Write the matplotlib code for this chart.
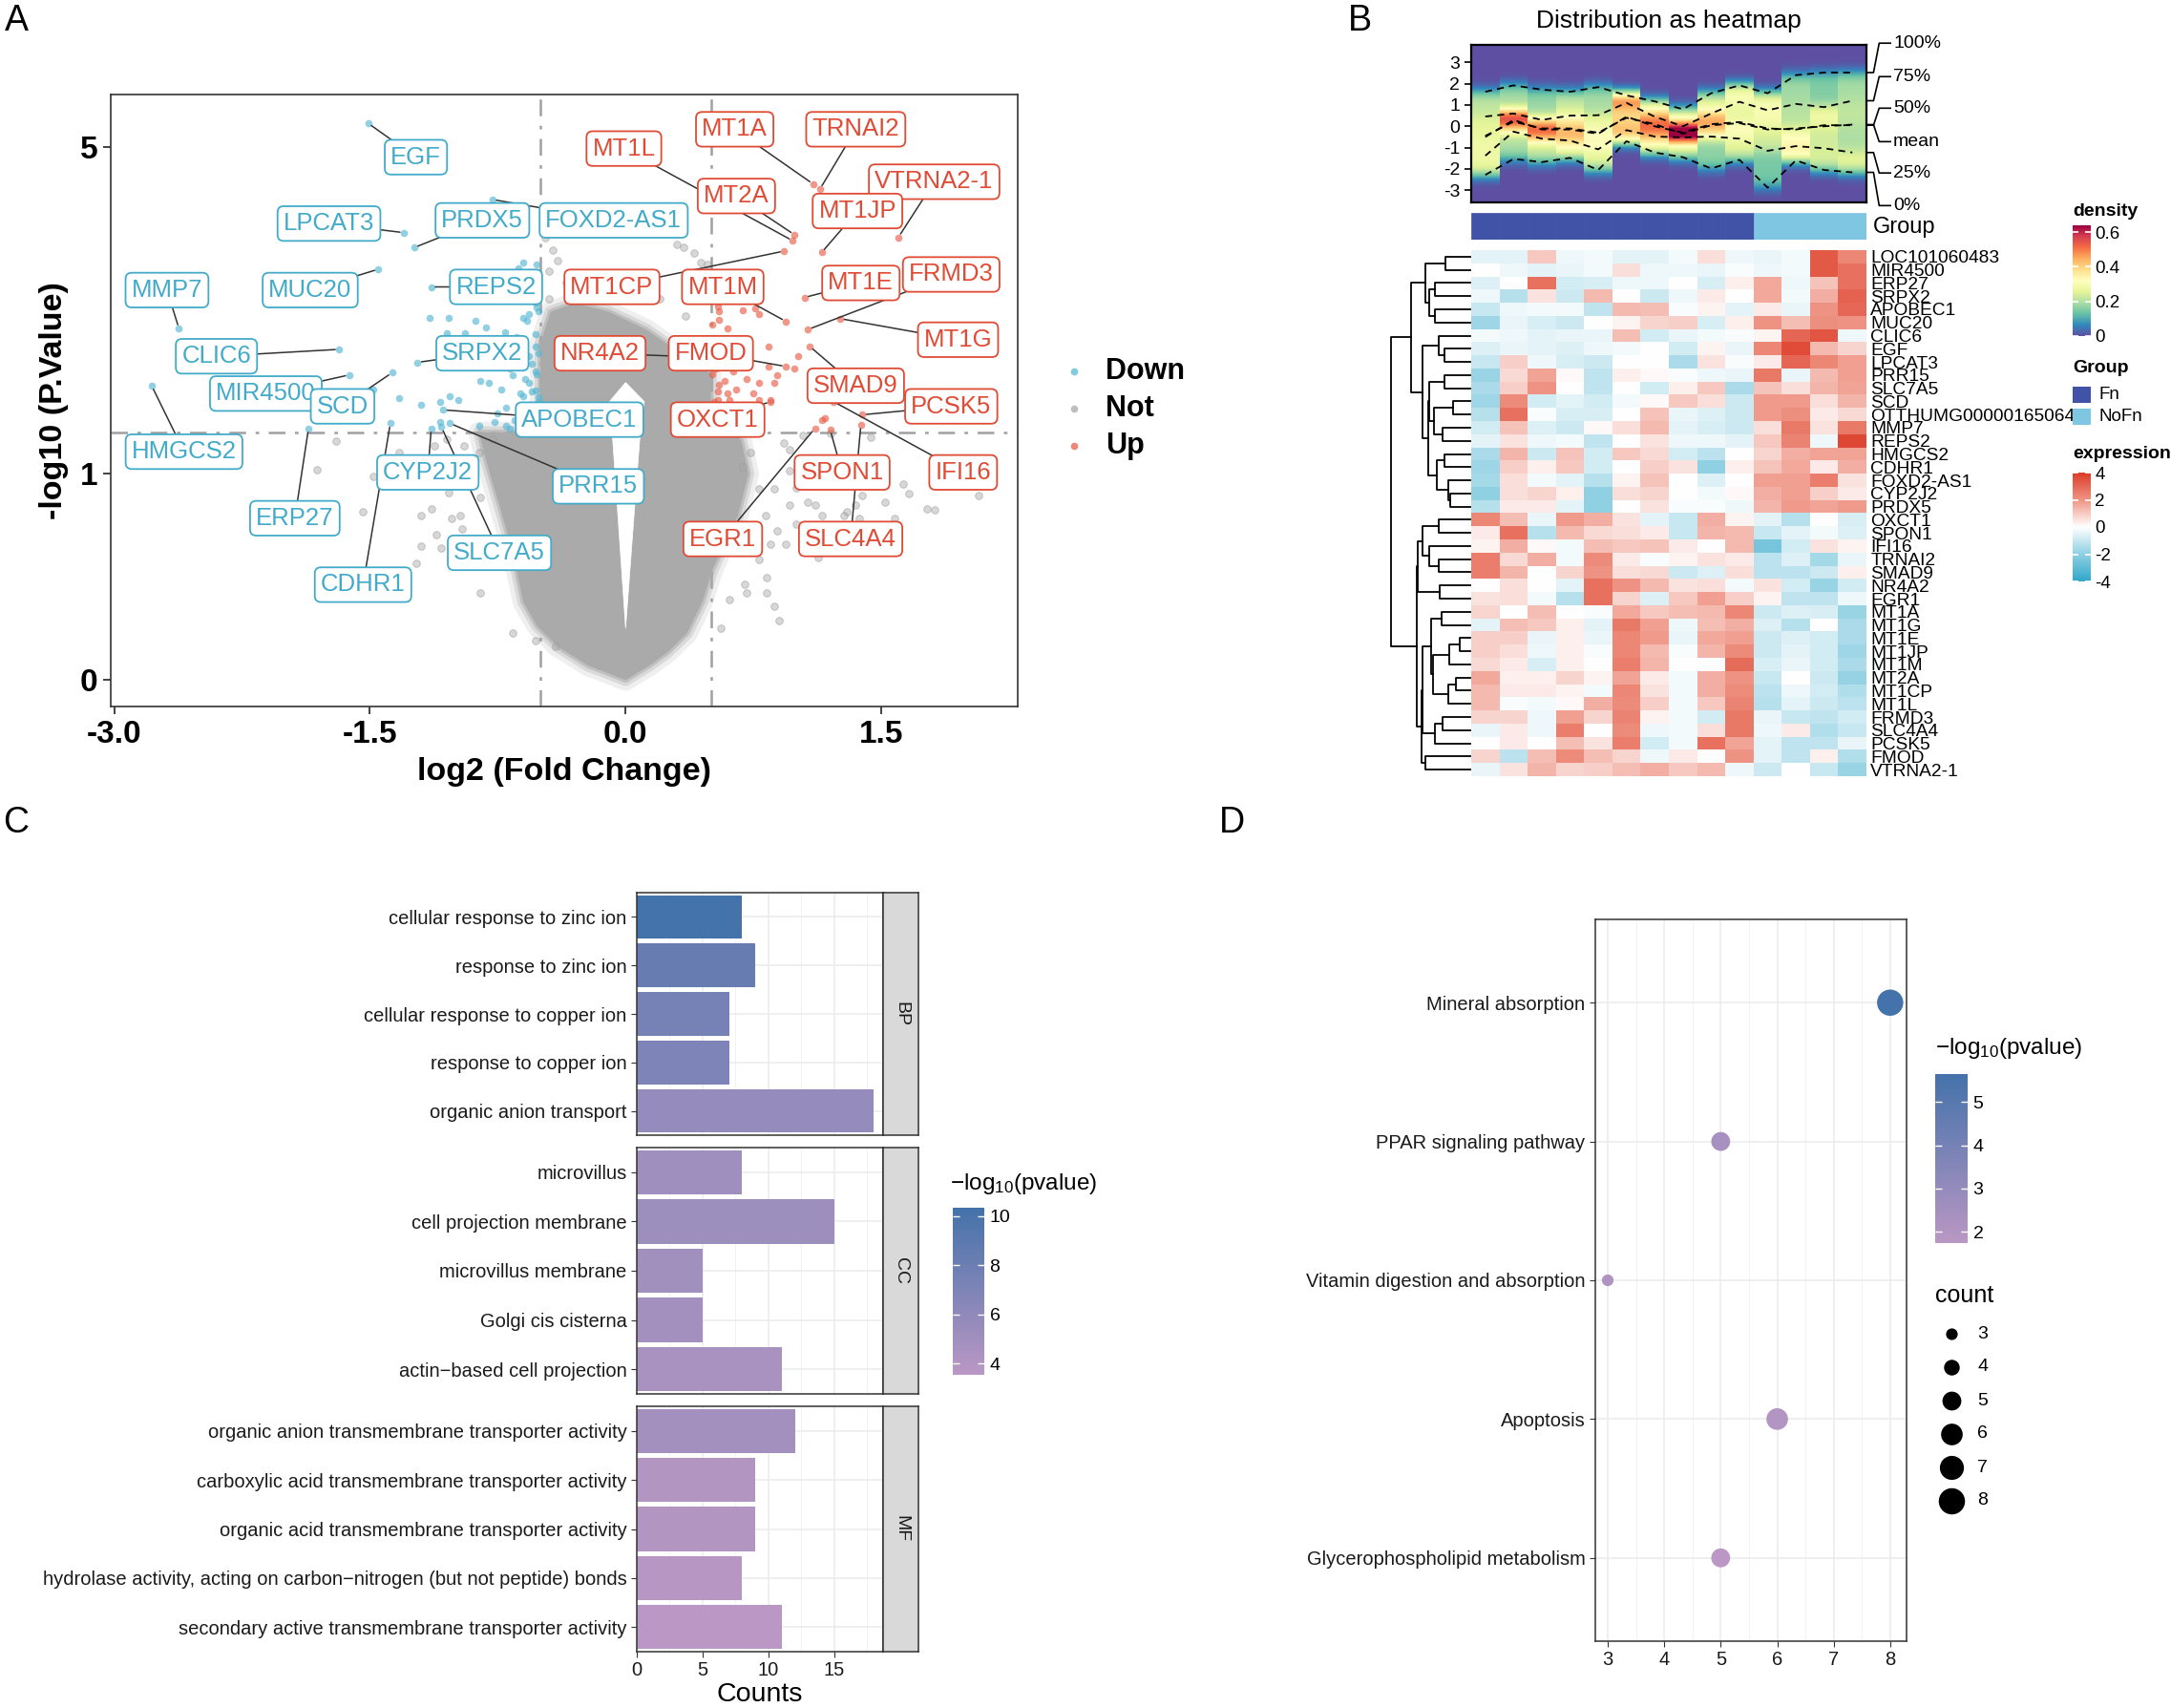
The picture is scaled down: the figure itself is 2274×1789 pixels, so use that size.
import numpy as np
import matplotlib.pyplot as plt
import matplotlib.colors as mcolors
from matplotlib.patches import Rectangle
from matplotlib.cm import ScalarMappable

plt.rcParams['font.family'] = ['Liberation Sans', 'DejaVu Sans']
plt.rcParams['mathtext.fontset'] = 'custom'
plt.rcParams['mathtext.rm'] = 'Liberation Sans'
plt.rcParams['mathtext.it'] = 'Liberation Sans:italic'
plt.rcParams['axes.unicode_minus'] = False
NARROW = ['Liberation Sans Narrow', 'Liberation Sans', 'DejaVu Sans']

# ---------------- A: volcano ----------------
down_genes = ['EGF', 'LPCAT3', 'PRDX5', 'FOXD2-AS1', 'MMP7', 'MUC20', 'REPS2', 'CLIC6', 'SRPX2',
              'MIR4500', 'SCD', 'APOBEC1', 'HMGCS2', 'CYP2J2', 'PRR15', 'ERP27', 'SLC7A5', 'CDHR1']
down_fc = [-1.51, -1.30, -1.24, -0.78, -2.62, -1.45, -1.14, -1.68, -1.22,
           -1.62, -1.37, -1.07, -2.78, -1.14, -1.03, -1.86, -1.08, -1.38]
down_lp = [5.50, 3.50, 3.28, 4.03, 2.26, 2.98, 2.75, 2.04, 1.91,
           1.79, 1.81, 1.48, 1.69, 1.33, 1.37, 1.33, 1.34, 1.37]

up_genes = ['MT1L', 'MT1A', 'TRNAI2', 'VTRNA2-1', 'MT2A', 'MT1JP', 'MT1CP', 'MT1M', 'FRMD3', 'MT1E',
            'MT1G', 'NR4A2', 'FMOD', 'PCSK5', 'SMAD9', 'OXCT1', 'SPON1', 'IFI16', 'EGR1', 'SLC4A4']
up_fc = [0.98, 1.10, 1.14, 1.60, 0.99, 1.15, 0.93, 0.94, 1.07, 1.05,
         1.26, 0.62, 0.94, 1.39, 1.08, 0.85, 1.20, 1.22, 1.11, 1.38]
up_lp = [3.38, 4.30, 4.21, 3.43, 3.47, 3.21, 3.23, 2.34, 2.25, 2.62,
         2.37, 1.95, 1.87, 1.44, 2.07, 1.55, 1.32, 1.55, 1.33, 1.36]

# other significant genes (unlabelled)
down_fc_x = [-1.15, -1.04, -0.88, -0.82, -0.60, -0.63, -0.71, -0.60, -0.57, -0.53, -0.51, -0.85, -0.80,
             -0.73, -0.66, -0.59, -0.55, -1.03, -0.98, -1.09, -1.20, -0.53, -0.57, -0.53, -0.51, -0.64,
             -0.60, -0.70, -0.68, -0.62, -1.05, -0.94, -0.86, -0.77, -0.70, -1.09, -1.33, -1.48,
             -0.52, -0.55, -0.51, -0.56, -0.52, -0.58, -0.53, -0.60, -0.51, -0.55, -0.52, -0.57,
             -0.53, -0.60, -0.51, -0.55, -0.62, -0.52, -0.58, -0.54, -0.65, -0.70, -0.75, -0.68]
down_lp_x = [2.38, 2.38, 2.35, 2.27, 3.07, 2.99, 2.22, 2.38, 2.42, 2.56, 2.45, 1.73, 1.72,
             1.66, 1.79, 1.75, 1.64, 1.60, 1.56, 1.55, 1.52, 2.07, 1.97, 1.82, 1.59, 2.17,
             2.14, 2.04, 1.85, 1.62, 2.21, 2.21, 1.35, 1.38, 1.35, 1.38, 1.58, 1.66,
             3.05, 2.90, 2.75, 2.60, 2.50, 2.35, 2.20, 2.10, 2.00, 1.90, 1.80, 1.72,
             1.65, 1.60, 1.55, 1.50, 1.45, 1.42, 1.38, 1.34, 1.40, 1.50, 1.45, 1.33]
up_fc_x = [0.54, 0.55, 0.60, 0.69, 0.76, 0.78, 0.84, 0.84, 0.89, 0.99, 1.01, 0.87, 0.78, 0.71,
           0.65, 0.58, 0.54, 0.75, 0.53, 0.54, 0.61, 0.78, 0.85, 0.63, 1.15, 1.17,
           0.52, 0.55, 0.51, 0.56, 0.52, 0.58, 0.51, 0.55, 0.60, 0.52, 0.57, 0.53, 0.60, 0.66,
           0.72, 0.52]
up_lp_x = [2.51, 2.36, 2.26, 2.47, 2.49, 2.42, 2.07, 1.87, 1.79, 1.85, 1.97, 1.72, 1.72, 1.75,
           1.66, 1.73, 1.64, 1.62, 1.85, 1.56, 1.56, 1.56, 1.56, 1.82, 1.40, 1.41,
           2.60, 2.45, 2.30, 2.15, 2.00, 1.90, 1.80, 1.70, 1.62, 1.55, 1.48, 1.42, 1.36, 1.45,
           1.40, 1.33]

# non-significant genes outside the dense core
not_fc = [-1.70, -1.81, -1.54, -1.48, -1.20, -1.11, -1.14, -1.20, -1.08, -0.85, -0.66, -0.53, -0.41,
          -1.23, -1.33, -1.04, -0.97, -0.95, -0.90, -0.92, -0.85, -0.96, -0.88, -1.05, -1.00, -1.02,
          -0.86, -0.78, -1.12, -1.18, -0.47, -0.43, -0.40, -0.45, 0.30, 0.34, 0.40, 0.44, 0.48,
          2.07, 1.77, 1.81, 1.66, 1.63, 1.58, 1.52, 1.44, 1.39, 1.35, 1.30, 1.37, 1.13, 0.90, 0.87,
          0.83, 0.83, 0.70, 0.71, 0.61, 0.56, 0.73, 0.93, 0.96, 1.04, 1.20, 0.87, 0.96, 1.07, 1.15,
          1.00, 0.89, 0.94, 0.85, 0.78, 0.82, 0.78, 0.96, 0.69, 1.00, 1.28, 1.11,
          -0.35, -0.20, 0.05, 0.20, -0.45, 0.35, -0.28, 0.12]
not_lp = [1.23, 1.03, 0.76, 0.98, 0.57, 0.63, 0.78, 0.74, 0.56, 0.34, 0.17, 0.14, 0.12,
          0.48, 1.15, 0.88, 0.74, 1.20, 1.05, 0.95, 0.85, 0.66, 0.55, 1.25, 1.10, 0.72,
          1.15, 1.25, 1.20, 1.00, 3.42, 3.25, 3.10, 2.95, 3.32, 3.28, 3.20, 3.07, 3.05,
          0.86, 0.78, 0.77, 0.87, 0.93, 0.72, 0.82, 1.26, 0.86, 0.80, 0.76, 0.72, 0.51, 0.22, 0.28,
          0.34, 0.41, 0.38, 0.34, 0.31, 0.19, 1.15, 1.22, 1.17, 1.28, 1.29, 0.90, 0.80, 0.82, 0.74,
          0.69, 0.65, 0.58, 0.58, 0.50, 0.74, 0.90, 1.02, 1.05, 0.91, 0.74, 0.80,
          2.80, 2.90, 2.75, 2.60, 2.60, 2.40, 2.70, 2.85]

# dense core of the non-significant genes (outline)
core_left_lp = [0.0, 0.05, 0.12, 0.20, 0.30, 0.53, 0.80, 1.10, 1.30]
core_left_fc = [0.0, -0.22, -0.40, -0.52, -0.60, -0.66, -0.74, -0.82, -0.86]
core_top_fc = [-0.5, -0.5, -0.44, -0.30, -0.10, 0.12, 0.32, 0.5, 0.5]
core_top_lp = [1.30, 2.10, 2.45, 2.55, 2.45, 2.25, 2.00, 1.80, 1.30]
core_right_lp = [1.30, 1.23, 1.00, 0.74, 0.58, 0.45, 0.30, 0.17, 0.10, 0.05, 0.0]
core_right_fc = [0.64, 0.68, 0.72, 0.66, 0.58, 0.51, 0.45, 0.36, 0.25, 0.14, 0.0]
gap_fc = [0.0, -0.075, -0.095, 0.0, 0.11, 0.082, 0.0]
gap_lp = [0.19, 1.23, 1.55, 1.72, 1.55, 1.23, 0.19]

# ---------------- B: heatmap ----------------
heat_genes = ['LOC101060483', 'MIR4500', 'ERP27', 'SRPX2', 'APOBEC1', 'MUC20', 'CLIC6', 'EGF', 'LPCAT3',
              'PRR15', 'SLC7A5', 'SCD', 'OTTHUMG00000165064', 'MMP7', 'REPS2', 'HMGCS2', 'CDHR1',
              'FOXD2-AS1', 'CYP2J2', 'PRDX5', 'OXCT1', 'SPON1', 'IFI16', 'TRNAI2', 'SMAD9', 'NR4A2',
              'EGR1', 'MT1A', 'MT1G', 'MT1E', 'MT1JP', 'MT1M', 'MT2A', 'MT1CP', 'MT1L', 'FRMD3',
              'SLC4A4', 'PCSK5', 'FMOD', 'VTRNA2-1']
groups = ['Fn'] * 10 + ['NoFn'] * 4
expr = [
    [-0.5, -0.5, 1.0, -0.3, -0.2, -0.5, -0.5, -0.2, 0.6, -0.3, -0.4, -0.2, 3.3, 2.3],
    [0.0, -0.3, -0.5, -0.4, -0.2, 0.6, -0.3, -0.3, -0.4, -0.1, -0.3, -0.2, 3.3, 2.8],
    [-0.6, 0.0, 2.8, -0.8, -0.7, -0.3, -0.3, 0.0, -0.7, 0.3, 1.6, -0.3, 1.1, 2.8],
    [-0.3, -1.3, 0.5, -0.9, 1.3, 0.0, -0.9, -0.3, 0.4, 0.0, 1.6, -0.2, 1.5, 3.1],
    [-1.0, -0.3, -0.2, -0.2, -1.1, 1.3, 1.2, -0.1, 0.2, -0.5, 0.4, -0.4, 2.0, 3.0],
    [-1.7, -0.4, -0.7, -0.9, 0.0, 0.2, 0.8, 0.9, -0.7, 0.3, 2.0, 1.2, 2.1, 2.0],
    [-0.2, -0.3, -0.5, -0.4, -0.4, 1.2, -0.8, -0.4, -0.2, -0.1, 0.2, 3.0, 3.4, -0.3],
    [-0.6, -0.4, -0.5, -0.6, -0.3, -0.2, 0.0, -0.8, 0.2, -0.4, 2.3, 3.6, 1.3, 0.8],
    [-1.0, 0.9, -0.3, -0.7, -0.9, 0.0, 0.0, -1.5, 0.5, -0.1, 0.4, 3.0, 2.3, 1.8],
    [-1.8, 0.7, 1.7, 0.1, -1.1, 0.3, 0.1, -0.1, -0.3, -0.4, 2.6, -0.4, 1.3, 1.8],
    [-1.5, 0.9, 2.0, 0.0, -1.1, 0.0, -0.8, 0.3, 1.0, -1.5, 1.1, 0.6, 1.4, 1.7],
    [-1.7, 2.2, -0.8, -0.5, -0.8, -0.2, 0.1, 1.0, 0.6, -0.9, 1.9, 1.9, 0.6, 1.4],
    [-1.3, 2.8, -0.1, -0.7, -0.7, 0.0, 1.1, -0.4, -0.6, -0.9, 1.9, 2.1, 0.4, 0.7],
    [-0.8, 1.1, -0.6, -0.9, 0.1, 0.6, 1.3, -0.5, -0.7, -0.9, 0.6, 2.6, 0.5, 2.6],
    [-0.5, 0.5, -0.3, -0.2, -1.1, 0.0, 0.5, -0.3, -0.3, -0.5, 1.0, 2.4, -0.3, 3.7],
    [-1.5, 1.4, -0.9, 1.1, -0.8, 1.0, 0.7, -0.8, -1.2, 0.0, 0.8, 1.5, 1.7, 1.7],
    [-1.7, 0.9, 0.3, 1.0, -0.8, 0.0, 0.9, 0.5, -2.0, 0.3, 1.1, 1.6, 0.4, 1.5],
    [-1.6, 0.6, -0.2, -0.5, -1.3, 0.2, 1.1, 0.0, -0.6, 0.0, 1.8, 1.8, 2.5, 0.5],
    [-2.0, 0.6, 0.8, 0.3, -2.0, 0.6, 0.8, 0.0, -0.2, 0.1, 1.5, 1.8, 0.9, 0.4],
    [-1.3, 0.4, 0.4, -0.5, -2.0, 0.0, 0.5, -0.1, -0.1, -0.3, 1.4, 1.9, 1.7, 1.9],
    [2.3, 1.2, -0.4, 1.9, 1.5, 0.5, -0.5, -1.0, 1.5, 0.2, -0.5, -1.3, 0.0, -0.7],
    [0.4, 2.8, -1.3, 1.3, 0.7, 0.6, 0.4, -1.0, 1.4, 1.3, -1.0, -0.5, -0.2, -0.6],
    [0.2, 1.5, 0.1, -0.2, 1.2, 1.0, 1.1, 0.4, 0.0, 1.3, -2.5, -0.8, 0.5, 0.2],
    [2.5, 0.7, 1.5, -0.2, 2.2, 0.4, -0.1, 0.2, 0.5, 0.4, -1.2, -0.6, -1.6, -0.4],
    [2.5, 1.4, 0.0, 0.8, 2.0, 0.6, 0.7, -0.9, -0.6, 0.6, -1.2, -1.2, -0.9, 0.3],
    [0.0, 0.6, 0.0, -0.5, 2.8, 2.0, 1.3, 0.5, 0.6, -0.2, 0.5, -0.8, -1.8, -0.8],
    [0.5, 0.6, -0.2, -1.3, 2.8, 0.8, -0.6, 1.0, 1.8, 0.9, 0.2, -1.1, -1.1, -0.3],
    [0.8, 0.0, 1.2, 0.0, -0.1, 1.6, 1.0, 1.2, 1.3, 2.3, -0.9, -0.6, -0.7, -1.8],
    [-0.5, 1.2, 1.0, 0.3, -0.5, 2.6, 1.8, -0.3, 1.2, 1.5, -0.6, -1.3, 0.0, -1.5],
    [0.9, 0.9, -0.4, 0.3, -0.4, 2.3, 1.9, -0.4, 1.6, 1.8, -0.9, -0.6, -0.8, -1.5],
    [0.9, 0.6, -0.3, 0.3, -0.1, 2.3, 1.3, -0.1, 1.4, 2.2, -0.9, -0.5, -0.8, -1.7],
    [0.7, 0.4, -0.7, 0.3, 0.0, 2.5, 1.4, 0.0, 0.0, 2.9, -0.7, -0.4, -0.8, -1.5],
    [1.6, 0.3, 0.3, 0.8, 0.2, 1.7, 0.4, -0.2, 1.5, 2.0, -1.0, 0.0, -0.9, -1.9],
    [1.3, 0.4, 0.4, 0.2, -0.2, 2.3, 0.5, -0.2, 1.5, 2.2, -1.2, -0.3, -0.8, -1.4],
    [1.3, -0.1, -0.2, 0.1, 1.5, 2.2, 0.9, -0.2, 1.0, 2.4, -1.3, -0.5, -0.9, -1.2],
    [0.8, 0.8, -0.3, 1.8, 0.8, 2.4, 0.2, -0.2, -0.8, 2.6, -0.4, -1.0, -1.1, -0.8],
    [-0.4, 0.4, -0.3, 2.5, 0.0, 2.2, -0.3, -0.2, 0.6, 2.6, -0.3, 0.4, -1.4, -1.0],
    [0.0, 0.4, 0.0, 1.2, 0.5, 2.5, -0.8, -0.2, 2.8, 1.7, -0.5, -1.1, -1.1, -0.4],
    [0.8, -1.2, 1.2, 2.2, 1.2, 0.8, -0.3, 0.4, 0.0, 2.0, -0.5, -1.1, 0.3, -1.4],
    [-0.4, 0.5, 1.4, 0.8, 0.9, 1.2, 1.5, 1.0, 1.3, -0.3, -0.9, 0.0, -1.0, -1.8],
]
# row dendrogram: (left, right, height), leaves are row indices
top_a = ((0, 1, 78), ((2, 3, 110), (4, 5, 110), 128), 140)
top_b = (6, (7, 8, 80), 100)
top_c = ((9, 10, 82), ((11, 12, 55), (13, 14, 88), 115), 128)
top_d = ((15, 16, 82), (17, (18, 19, 62), 70), 104)
top_tree = (top_a, (top_b, (top_c, top_d, 132), 148), 185)
bot_a = (((20, 21, 100), (22, (23, 24, 100), 128), 150), (25, 26, 95), 165)
bot_b = ((27, 28, 90), (((29, 30, 32), 31, 65), ((32, 33, 45), 34, 68), 118), 124)
bot_c = ((35, 36, 86), 37, 112)
bot_tree = (bot_a, ((bot_b, bot_c, 150), (38, 39, 140), 152), 168)
row_tree = (top_tree, bot_tree, 248)

# distribution per sample (quantiles and mean)
q100 = [1.62, 1.92, 1.72, 1.62, 1.84, 1.45, 1.17, 0.80, 1.55, 1.92, 1.55, 2.40, 2.52, 2.52]
q75 = [0.46, 0.60, 0.30, 0.50, 0.52, 1.10, 0.45, 0.00, 0.60, 1.15, 0.75, 1.05, 0.90, 1.20]
q50 = [-0.50, 0.30, -0.15, -0.15, -0.35, 0.45, 0.00, -0.30, 0.10, 0.20, -0.10, -0.15, 0.05, 0.05]
qmean = [-0.45, 0.22, -0.10, -0.10, -0.30, 0.40, 0.10, -0.35, 0.05, 0.15, -0.15, -0.10, 0.00, 0.08]
q25 = [-1.38, -0.25, -0.58, -0.67, -1.08, -0.18, -0.48, -0.52, -0.48, -0.58, -1.15, -0.93, -1.03, -1.23]
q0 = [-2.28, -1.53, -1.68, -1.48, -2.05, -0.70, -1.23, -1.45, -1.98, -1.57, -2.88, -1.60, -2.05, -2.16]

# ---------------- C: GO ----------------
go_terms = ['cellular response to zinc ion', 'response to zinc ion', 'cellular response to copper ion',
            'response to copper ion', 'organic anion transport',
            'microvillus', 'cell projection membrane', 'microvillus membrane', 'Golgi cis cisterna',
            'actin\u2212based cell projection',
            'organic anion transmembrane transporter activity',
            'carboxylic acid transmembrane transporter activity',
            'organic acid transmembrane transporter activity',
            'hydrolase activity, acting on carbon\u2212nitrogen (but not peptide) bonds',
            'secondary active transmembrane transporter activity']
go_ont = ['BP'] * 5 + ['CC'] * 5 + ['MF'] * 5
go_count = [8, 9, 7, 7, 18, 8, 15, 5, 5, 11, 12, 9, 9, 8, 11]
go_logp = [10.34, 8.3, 7.5, 7.0, 5.7, 5.1, 5.3, 5.0, 4.9, 4.5, 4.9, 4.0, 4.0, 3.7, 3.55]

# ---------------- D: KEGG ----------------
kegg_terms = ['Mineral absorption', 'PPAR signaling pathway', 'Vitamin digestion and absorption',
              'Apoptosis', 'Glycerophospholipid metabolism']
kegg_count = [8, 5, 3, 6, 5]
kegg_logp = [5.65, 2.4, 2.1, 2.0, 1.74]

# =====================================================================
W, H = 2274, 1789
fig = plt.figure(figsize=(W / 100, H / 100), dpi=100)


def fax(x0, y0, x1, y1, **kw):
    return fig.add_axes([x0 / W, 1 - y1 / H, (x1 - x0) / W, (y1 - y0) / H], **kw)


BLUE, RED, GREY = '#56B7D3', '#E8604A', '#A8A8A8'
BLUE_T, RED_T = '#43ABCA', '#E04B35'

# ---------------- panel A ----------------
axA = fax(116, 99, 1066, 740)
axA.set_yscale('function', functions=(lambda v: np.log10(np.clip(1 + np.asarray(v, float), 1e-9, None)),
                                      lambda t: 10 ** np.asarray(t, float) - 1))
axA.set_xlim(-3.02, 2.30)
axA.set_ylim(-0.085, 6.16)

poly_x = core_left_fc + core_top_fc + core_right_fc
poly_y = core_left_lp + core_top_lp + core_right_lp
# soft rim first, then the dense core
for lw, a in [(16, 0.18), (9, 0.3), (4, 0.5)]:
    axA.fill(poly_x, poly_y, fc='none', ec=(0.66, 0.66, 0.66, a), lw=lw, joinstyle='round', zorder=1)
axA.fill(poly_x, poly_y, fc='#AAAAAA', ec='none', zorder=1.1)
axA.fill(gap_fc, gap_lp, fc='white', ec='white', lw=0.5, zorder=1.2)
axA.scatter(not_fc, not_lp, s=30, fc=(0.66, 0.66, 0.66, 0.45), ec=(0.6, 0.6, 0.6, 0.6), lw=0.6, zorder=2)
axA.scatter(down_fc_x + down_fc, down_lp_x + down_lp, s=30, fc=BLUE, alpha=0.65, lw=0, zorder=3)
axA.scatter(up_fc_x + up_fc, up_lp_x + up_lp, s=30, fc=RED, alpha=0.65, lw=0, zorder=3)

dash_dot = (0, (7, 4, 1.5, 4))
axA.axhline(-np.log10(0.05), color='#A0A0A0', lw=1.8, ls=dash_dot, zorder=0.5)
for v in (-0.5, 0.5):
    axA.axvline(v, color='#A0A0A0', lw=1.8, ls=dash_dot, zorder=0.5)

label_pos = {
    'EGF': (-1.23, 4.80), 'LPCAT3': (-1.74, 3.64), 'PRDX5': (-0.84, 3.69), 'FOXD2-AS1': (-0.07, 3.69),
    'MMP7': (-2.69, 2.71), 'MUC20': (-1.85, 2.71), 'REPS2': (-0.76, 2.75), 'CLIC6': (-2.40, 1.97),
    'SRPX2': (-0.84, 2.00), 'MIR4500': (-2.11, 1.62), 'SCD': (-1.66, 1.51), 'APOBEC1': (-0.27, 1.40),
    'HMGCS2': (-2.59, 1.155), 'CYP2J2': (-1.16, 1.01), 'PRR15': (-0.16, 0.918), 'ERP27': (-1.94, 0.723),
    'SLC7A5': (-0.74, 0.534), 'CDHR1': (-1.54, 0.378),
    'MT1L': (-0.01, 4.97), 'MT1A': (0.64, 5.37), 'TRNAI2': (1.35, 5.37), 'VTRNA2-1': (1.81, 4.34),
    'MT2A': (0.65, 4.09), 'MT1JP': (1.36, 3.84), 'MT1CP': (-0.08, 2.75), 'MT1M': (0.57, 2.75),
    'MT1E': (1.38, 2.80), 'FRMD3': (1.91, 2.91), 'MT1G': (1.95, 2.14), 'NR4A2': (-0.15, 2.00),
    'FMOD': (0.50, 2.00), 'SMAD9': (1.35, 1.69), 'PCSK5': (1.91, 1.51), 'OXCT1': (0.54, 1.40),
    'SPON1': (1.27, 1.01), 'IFI16': (1.98, 1.01), 'EGR1': (0.57, 0.607), 'SLC4A4': (1.32, 0.607),
}
entries = [(g, x, y, BLUE_T) for g, x, y in zip(down_genes, down_fc, down_lp)] + \
          [(g, x, y, RED_T) for g, x, y in zip(up_genes, up_fc, up_lp)]
box = dict(boxstyle='round,pad=0.24,rounding_size=0.25')
for g, x, y, c in entries:
    axA.annotate(g, xy=(x, y), xytext=label_pos[g], ha='center', va='center', fontsize=18.5,
                 color='none', bbox=dict(box, fc='none', ec='none'),
                 arrowprops=dict(arrowstyle='-', color='#333333', lw=1.1, shrinkA=0, shrinkB=3),
                 zorder=4)
for i, (g, x, y, c) in enumerate(entries):
    axA.text(*label_pos[g], g, ha='center', va='center', fontsize=18.5, color=c,
             bbox=dict(box, fc='white', ec=c, lw=1.3), zorder=5 + i * 0.01)

axA.set_xticks([-3, -1.5, 0, 1.5], ['-3.0', '-1.5', '0.0', '1.5'])
axA.set_yticks([0, 1, 5], ['0', '1', '5'])
axA.yaxis.set_minor_locator(plt.NullLocator())
axA.tick_params(labelsize=24, width=1.3, length=6, color='#333333', pad=4)
for lab in axA.get_xticklabels() + axA.get_yticklabels():
    lab.set_fontweight('bold')
axA.set_xlabel('log2 (Fold Change)', fontsize=24.5, fontweight='bold', labelpad=6)
axA.set_ylabel('-log10 (P.Value)', fontsize=24.5, fontweight='bold', labelpad=8)
for s in axA.spines.values():
    s.set_color('#333333')
    s.set_linewidth(1.2)

# ---------------- overlay in pixel coordinates ----------------
ov = fig.add_axes([0, 0, 1, 1], zorder=20)
ov.set_xlim(0, W)
ov.set_ylim(H, 0)
ov.axis('off')
ov.patch.set_visible(False)

for ch, (px, py) in zip('ABCD', [(17, 22), (1424, 22), (17, 862), (1290, 862)]):
    ov.text(px, py, ch, fontsize=27, ha='center', va='center')

for lab, c, py in [('Down', BLUE, 389), ('Not', GREY, 428), ('Up', RED, 467)]:
    ov.scatter([1125], [py], s=30, color=c, alpha=0.75, lw=0)
    ov.text(1158, py, lab, fontsize=22, fontweight='bold', va='center')

# ---------------- panel B: density heatmap ----------------
n_s = len(groups)
axT = fax(1541, 47, 1955, 212)
ylo, yhi = -3.57, 3.82
yy = np.linspace(ylo, yhi, 400)
step = yy[1] - yy[0]
kx = np.arange(-90, 91) * step
ker = np.exp(-0.5 * (kx / 0.3) ** 2)
ker /= ker.sum()
qmat = np.array([q0, q25, q50, q75, q100])
dens = np.zeros((yy.size, n_s))
for j in range(n_s):
    d = np.zeros_like(yy)
    for k in range(4):
        lo, hi = qmat[k, j], qmat[k + 1, j]
        d += 0.25 * ((yy >= lo) & (yy < hi)) / (hi - lo)
    dens[:, j] = np.convolve(d, ker, mode='same')
axT.imshow(dens, extent=(0, n_s, ylo, yhi), origin='lower', aspect='auto', cmap='Spectral_r',
           vmin=0, vmax=0.64, interpolation='nearest')
xc = np.arange(n_s) + 0.5
q_lines = [q100, q75, q50, qmean, q25, q0]
q_names = ['100%', '75%', '50%', 'mean', '25%', '0%']
q_label_y = [3.9, 2.33, 0.85, -0.72, -2.19, -3.72]
for arr, nm, ly in zip(q_lines, q_names, q_label_y):
    axT.plot(xc, arr, ls=(0, (4, 3)), color='black', lw=1.3)
    axT.plot([n_s, n_s + 0.25, n_s + 0.45, n_s + 0.85], [arr[-1], arr[-1], ly, ly],
             color='black', lw=1.2, clip_on=False)
    axT.text(n_s + 0.95, ly, nm, fontsize=14, va='center')
axT.set_xlim(0, n_s)
axT.set_ylim(ylo, yhi)
axT.set_xticks([])
axT.set_yticks(range(-3, 4))
axT.tick_params(axis='y', labelsize=14, length=5, width=1.2)
for s in axT.spines.values():
    s.set_linewidth(1.6)
ov.text(1748, 22, 'Distribution as heatmap', fontsize=19, ha='center', va='center')

# group bar
grp_col = {'Fn': '#4153A6', 'NoFn': '#7EC6E2'}
axG = fax(1541, 223, 1955, 251)
for j, g in enumerate(groups):
    axG.add_patch(Rectangle((j, 0), 1, 1, fc=grp_col[g], ec=grp_col[g], lw=0.5))
axG.set_xlim(0, n_s)
axG.set_ylim(0, 1)
axG.axis('off')
ov.text(1962, 238, 'Group', fontsize=17, va='center')

# main heatmap
heat_cmap = mcolors.LinearSegmentedColormap.from_list(
    'expr', [(0, '#2FA7C9'), (0.25, '#8FD0E3'), (0.5, '#FFFFFF'), (0.75, '#EF9585'), (1, '#DC3B26')])
axH = fax(1541, 262, 1955, 813)
axH.imshow(np.array(expr), cmap=heat_cmap, vmin=-4, vmax=4, aspect='auto', interpolation='nearest',
           extent=(0, n_s, len(heat_genes) - 0.5, -0.5))
axH.set_xlim(0, n_s)
axH.set_ylim(len(heat_genes) - 0.5, -0.5)
axH.set_xticks([])
axH.yaxis.tick_right()
axH.set_yticks(range(len(heat_genes)), heat_genes, fontsize=13.8, family=NARROW)
axH.tick_params(axis='y', length=0, pad=3)
for s in axH.spines.values():
    s.set_visible(False)

# dendrogram
axDen = fax(1457, 262, 1540, 813)


def draw_node(ax, node):
    if isinstance(node, int):
        return node, 0.0
    a, b, h = node
    ya, ha = draw_node(ax, a)
    yb, hb = draw_node(ax, b)
    ax.plot([ha, h, h, hb], [ya, ya, yb, yb], color='black', lw=1.3, clip_on=False)
    return (ya + yb) / 2, h


draw_node(axDen, row_tree)
axDen.set_xlim(row_tree[2], 0)
axDen.set_ylim(len(heat_genes) - 0.5, -0.5)
axDen.axis('off')

# legends of B
ov.text(2171, 222, 'density', fontsize=14, fontweight='bold', va='center')
cax1 = fax(2171, 236, 2190, 352)
cb1 = fig.colorbar(ScalarMappable(mcolors.Normalize(0, 0.64), 'Spectral_r'), cax=cax1,
                   ticks=[0, 0.2, 0.4, 0.6])
cb1.ax.set_yticklabels(['0', '0.2', '0.4', '0.6'])
ov.text(2171, 386, 'Group', fontsize=14, fontweight='bold', va='center')
for k, (g, py) in enumerate([('Fn', 405), ('NoFn', 428)]):
    ov.add_patch(Rectangle((2171, py), 19, 17, fc=grp_col[g], ec='none'))
    ov.text(2198, py + 8.5, g, fontsize=13.5, va='center')
ov.text(2171, 476, 'expression', fontsize=14, fontweight='bold', va='center')
cax2 = fax(2171, 495, 2190, 609)
cb2 = fig.colorbar(ScalarMappable(mcolors.Normalize(-4, 4), heat_cmap), cax=cax2, ticks=[-4, -2, 0, 2, 4])
for cb in (cb1, cb2):
    cb.outline.set_visible(False)
    cb.ax.tick_params(labelsize=13.5, color='white', direction='in', length=4, width=1.2,
                      left=True, right=True, pad=3)

# ---------------- panel C: GO bars ----------------
go_cmap = mcolors.LinearSegmentedColormap.from_list('go', ['#BA97C4', '#4472AA'])
go_norm = mcolors.Normalize(3.55, 10.34)
facets = [('BP', 935, 1189), ('CC', 1202, 1460), ('MF', 1473, 1730)]
for k, (ont, y0, y1) in enumerate(facets):
    ax = fax(667, y0, 925, y1)
    idx = [i for i, o in enumerate(go_ont) if o == ont]
    pos = np.arange(len(idx))[::-1] + 1
    ax.set_xlim(0, 18.7)
    ax.set_ylim(0.5, len(idx) + 0.5)
    for v in (0, 5, 10, 15):
        ax.axvline(v, color='#EBEBEB', lw=1.1, zorder=0)
    for v in (2.5, 7.5, 12.5, 17.5):
        ax.axvline(v, color='#F2F2F2', lw=0.7, zorder=0)
    for p in pos:
        ax.axhline(p, color='#EBEBEB', lw=1.1, zorder=0)
    ax.barh(pos, [go_count[i] for i in idx], height=0.9,
            color=go_cmap(go_norm([go_logp[i] for i in idx])), zorder=2)
    ax.set_yticks(pos, [go_terms[i] for i in idx])
    ax.tick_params(axis='y', labelsize=14.5, length=4, color='#333333', labelcolor='#1A1A1A')
    if k == 2:
        ax.set_xticks([0, 5, 10, 15])
        ax.tick_params(axis='x', labelsize=14.5, length=4, color='#333333', labelcolor='#1A1A1A')
        ax.set_xlabel('Counts', fontsize=20.5, labelpad=2)
    else:
        ax.set_xticks([])
    for s in ax.spines.values():
        s.set_color('#333333')
        s.set_linewidth(1.1)
    st = fax(925, y0, 962, y1)
    st.set_facecolor('#D9D9D9')
    st.set_xticks([])
    st.set_yticks([])
    for s in st.spines.values():
        s.set_color('#333333')
        s.set_linewidth(1.1)
    st.text(0.5, 0.5, ont, rotation=-90, ha='center', va='center', fontsize=14,
            transform=st.transAxes, color='#1A1A1A')

ov.text(995, 1240, '\u2212log$_{10}$(pvalue)', fontsize=17.5, va='center')
cax3 = fax(998, 1265, 1031, 1440)
cb3 = fig.colorbar(ScalarMappable(go_norm, go_cmap), cax=cax3, ticks=[4, 6, 8, 10])

# ---------------- panel D: KEGG dots ----------------
kegg_norm = mcolors.Normalize(1.74, 5.65)


def dot_size(c):
    d_px = np.sqrt(149 + 121.4 * (np.asarray(c, float) - 3))
    return (d_px * 0.72) ** 2


axK = fax(1671, 963, 1997, 1719)
ky = np.arange(len(kegg_terms))[::-1] + 1
axK.set_xlim(2.78, 8.29)
axK.set_ylim(0.4, len(kegg_terms) + 0.6)
for v in range(3, 9):
    axK.axvline(v, color='#EBEBEB', lw=1.1, zorder=0)
for v in np.arange(3.5, 8.5, 1):
    axK.axvline(v, color='#F2F2F2', lw=0.7, zorder=0)
for p in ky:
    axK.axhline(p, color='#EBEBEB', lw=1.1, zorder=0)
axK.scatter(kegg_count, ky, s=dot_size(kegg_count), c=kegg_logp, cmap=go_cmap, norm=kegg_norm,
            lw=0, zorder=3, clip_on=False)
axK.set_yticks(ky, kegg_terms)
axK.set_xticks(range(3, 9))
axK.tick_params(labelsize=14.5, length=4, color='#333333', labelcolor='#1A1A1A')
for s in axK.spines.values():
    s.set_color('#333333')
    s.set_linewidth(1.1)

ov.text(2027, 1098, '\u2212log$_{10}$(pvalue)', fontsize=17.5, va='center')
cax4 = fax(2027, 1125, 2061, 1302)
cb4 = fig.colorbar(ScalarMappable(kegg_norm, go_cmap), cax=cax4, ticks=[2, 3, 4, 5])
for cb in (cb3, cb4):
    cb.outline.set_visible(False)
    cb.ax.tick_params(labelsize=14, color='white', direction='in', length=5, width=1,
                      left=True, right=True, pad=4)

ov.text(2027, 1357, 'count', fontsize=18, va='center')
leg_counts = [3, 4, 5, 6, 7, 8]
for c, py in zip(leg_counts, [1397, 1432, 1467, 1502, 1537, 1572]):
    ov.scatter([2044], [py], s=dot_size(c), color='black', lw=0)
    ov.text(2071, py, str(c), fontsize=14, va='center')

fig.savefig('out.png', dpi=100)
